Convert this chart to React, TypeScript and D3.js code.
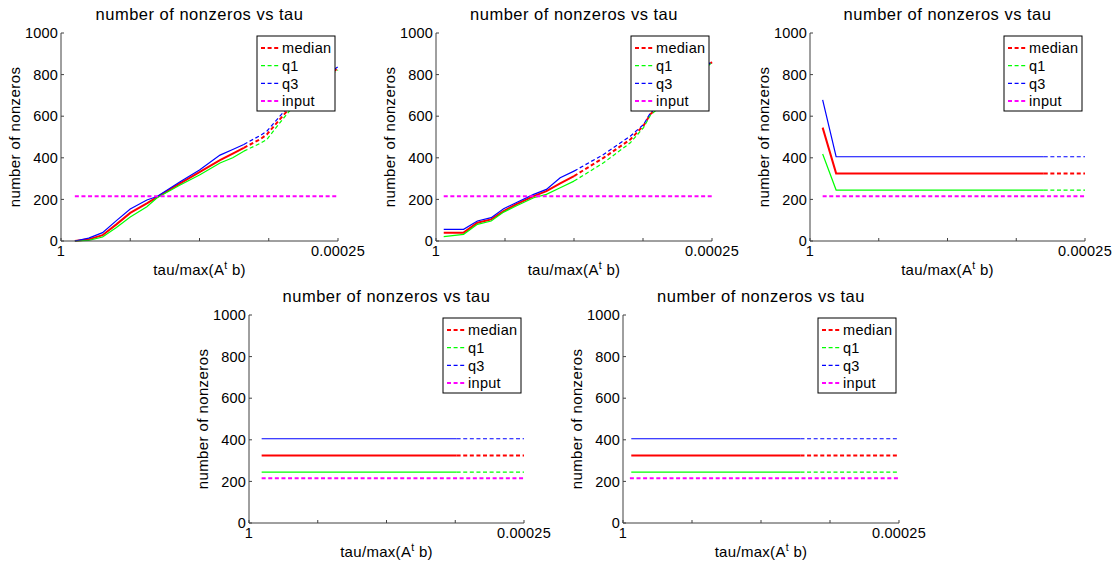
import React from "react";
import * as d3 from "d3";

// shared axis content
const yTicks = [0, 200, 400, 600, 800, 1000];
const xTickPos = [0, 0.25, 0.5, 0.75, 1];
const xTickLabels = ["1", "", "", "", "0.00025"];
const legendNames = ["median", "q1", "q3", "input"];

// panel 1 (x = position along the tau axis, 0 -> tau 1, 1 -> tau 0.00025)
const p1Tau = [0.05, 0.1, 0.15, 0.2, 0.25, 0.31, 0.347, 0.43, 0.5, 0.574, 0.62, 0.66, 0.72, 0.743, 0.8, 0.86, 0.93, 1.0];
const p1Median = [0, 8, 28, 80, 135, 181, 211, 277, 331, 389, 420, 448, 490, 512, 600, 690, 765, 830];
const p1Q1 = [0, 3, 19, 65, 115, 165, 208, 269, 317, 375, 400, 432, 470, 488, 585, 680, 760, 822];
const p1Q3 = [0, 14, 40, 98, 154, 197, 214, 285, 341, 413, 440, 464, 508, 528, 615, 700, 775, 838];
const p1Solid = 12;
const p1Input = [0.05, 215];

// panel 2
const p2Tau = [0.028, 0.1, 0.15, 0.2, 0.245, 0.29, 0.354, 0.4, 0.45, 0.5, 0.607, 0.704, 0.752, 0.777, 0.85, 1.0];
const p2Median = [40, 40, 88, 104, 144, 176, 216, 240, 277, 312, 400, 488, 555, 610, 695, 860];
const p2Q1 = [21, 32, 80, 96, 139, 168, 208, 224, 256, 288, 376, 472, 545, 605, 690, 858];
const p2Q3 = [56, 56, 96, 112, 155, 184, 224, 248, 304, 336, 416, 504, 560, 616, 700, 864];
const p2Solid = 10;
const p2Input = [0.028, 215];

// panel 3
const p3Tau = [0.046, 0.095, 0.85, 1.0];
const p3Median = [545, 325, 325, 325];
const p3Q1 = [418, 245, 245, 245];
const p3Q3 = [678, 405, 405, 405];
const p3Solid = 3;
const p3Input = [0.046, 215];

// panel 4
const p4Tau = [0.046, 0.755, 1.0];
const p4Median = [325, 325, 325];
const p4Q1 = [245, 245, 245];
const p4Q3 = [405, 405, 405];
const p4Solid = 2;
const p4Input = [0.046, 215];

// panel 5
const p5Tau = [0.03, 0.643, 1.0];
const p5Median = [325, 325, 325];
const p5Q1 = [245, 245, 245];
const p5Q3 = [405, 405, 405];
const p5Solid = 2;
const p5Input = [0.025, 215];

const FONT = "'Liberation Sans', Arial, Helvetica, sans-serif";
const RED = "#ff0000";
const GREEN = "#00ff00";
const BLUE = "#0000ff";
const MAGENTA = "#ff00ff";
const AXIS = "#404040";
const DASH = "4,2.6";

const Panel = ({ box, tau, median, q1, q3, solid, input }) => {
  const x = d3.scaleLinear().domain([0, 1]).range([box.left, box.right]);
  const y = d3.scaleLinear().domain([0, 1000]).range([box.bottom, box.top]);
  const line = d3
    .line()
    .x((d) => x(d[0]))
    .y((d) => y(d[1]));

  const series = [
    { vals: median, color: RED, w: 2 },
    { vals: q1, color: GREEN, w: 1.2 },
    { vals: q3, color: BLUE, w: 1.2 },
  ];
  const midX = (box.left + box.right) / 2;
  const midY = (box.top + box.bottom) / 2;

  // legend box sits inside the top right corner
  const lgW = 78;
  const lgH = 75;
  const lgX = box.right - 3 - lgW;
  const lgY = box.top + 3;
  const lgStyles = [
    { color: RED, w: 2 },
    { color: GREEN, w: 1.2 },
    { color: BLUE, w: 1.2 },
    { color: MAGENTA, w: 2 },
  ];

  return (
    <g fontFamily={FONT} fill="#000">
      <text x={midX} y={box.top - 13} textAnchor="middle" fontSize={16.5} letterSpacing={0.5}>
        number of nonzeros vs tau
      </text>

      {/* data */}
      {series.map((s, i) => {
        const pts = tau.map((t, j) => [t, s.vals[j]]);
        return (
          <g key={i} fill="none" stroke={s.color} strokeWidth={s.w}>
            <path d={line(pts.slice(0, solid))} />
            <path d={line(pts.slice(solid - 1))} strokeDasharray={DASH} />
          </g>
        );
      })}
      <path
        d={line([[input[0], input[1]], [1, input[1]]])}
        fill="none"
        stroke={MAGENTA}
        strokeWidth={2}
        strokeDasharray={DASH}
      />

      {/* axes */}
      <line x1={box.left} x2={box.left} y1={box.top} y2={box.bottom} stroke={AXIS} />
      <line x1={box.left} x2={box.right} y1={box.bottom} y2={box.bottom} stroke={AXIS} />
      {yTicks.map((t) => (
        <g key={t}>
          <line x1={box.left} x2={box.left + 3} y1={y(t)} y2={y(t)} stroke={AXIS} />
          <text x={box.left - 3} y={y(t)} dy="0.36em" textAnchor="end" fontSize={14.5} letterSpacing={0.2}>
            {t}
          </text>
        </g>
      ))}
      {xTickPos.map((t, i) => (
        <g key={i}>
          <line x1={x(t)} x2={x(t)} y1={box.bottom} y2={box.bottom - 3} stroke={AXIS} />
          <text x={x(t)} y={box.bottom + 15} textAnchor="middle" fontSize={14.5} letterSpacing={0.2}>
            {xTickLabels[i]}
          </text>
        </g>
      ))}
      <text
        transform={`translate(${box.left - 41},${midY}) rotate(-90)`}
        textAnchor="middle"
        fontSize={15}
        letterSpacing={0.4}
      >
        number of nonzeros
      </text>
      <text x={midX} y={box.bottom + 34} textAnchor="middle" fontSize={15} letterSpacing={0.3}>
        tau/max(A
        <tspan fontSize={10.5} dy={-6}>t</tspan>
        <tspan dy={6}> b)</tspan>
      </text>

      {/* legend */}
      <rect x={lgX} y={lgY} width={lgW} height={lgH} fill="#fff" stroke="#000" strokeWidth={1} />
      {legendNames.map((name, i) => {
        const ly = lgY + 12 + i * 17.7;
        return (
          <g key={name}>
            <line
              x1={lgX + 4}
              x2={lgX + 23}
              y1={ly}
              y2={ly}
              stroke={lgStyles[i].color}
              strokeWidth={lgStyles[i].w}
              strokeDasharray={DASH}
            />
            <text x={lgX + 25} y={ly} dy="0.36em" fontSize={14.5} letterSpacing={0.3}>
              {name}
            </text>
          </g>
        );
      })}
    </g>
  );
};

const App = () => {
  const panels = [
    { box: { left: 61, right: 338, top: 33, bottom: 241 }, tau: p1Tau, median: p1Median, q1: p1Q1, q3: p1Q3, solid: p1Solid, input: p1Input },
    { box: { left: 436, right: 712, top: 33, bottom: 241 }, tau: p2Tau, median: p2Median, q1: p2Q1, q3: p2Q3, solid: p2Solid, input: p2Input },
    { box: { left: 810, right: 1085, top: 33, bottom: 241 }, tau: p3Tau, median: p3Median, q1: p3Q1, q3: p3Q3, solid: p3Solid, input: p3Input },
    { box: { left: 249, right: 524, top: 315, bottom: 523 }, tau: p4Tau, median: p4Median, q1: p4Q1, q3: p4Q3, solid: p4Solid, input: p4Input },
    { box: { left: 623, right: 899, top: 315, bottom: 523 }, tau: p5Tau, median: p5Median, q1: p5Q1, q3: p5Q3, solid: p5Solid, input: p5Input },
  ];
  return (
    <svg
      width={1120}
      height={566}
      style={{ position: "absolute", left: 0, top: 0, background: "#fff" }}
    >
      <rect width={1120} height={566} fill="#fff" />
      {panels.map((p, i) => (
        <Panel key={i} {...p} />
      ))}
    </svg>
  );
};

export default App;
